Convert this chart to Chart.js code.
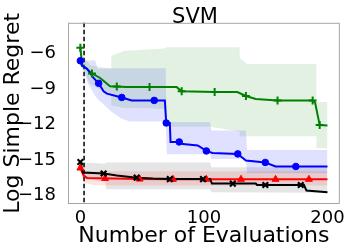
<!DOCTYPE html>
<html>
<head>
<meta charset="utf-8">
<script src="https://cdn.jsdelivr.net/npm/chart.js@4/dist/chart.umd.min.js"></script>
<style>
html,body{margin:0;padding:0;background:#fff;}
#wrap{width:349px;height:251px;position:relative;}
</style>
</head>
<body>
<div id="wrap"><canvas id="c" width="349" height="251"></canvas></div>
<script>
// ---- data ----
const chartTitle = "SVM";
const xTitle = "Number of Evaluations";
const yTitle = "Log Simple Regret";
const xTicks = [0, 100, 200];
const yTicks = [-18, -15, -12, -9, -6];
const initDesignX = 3;

// green (+)
const greenX = [0, 1.3, 9.4, 16, 24, 37.6, 56, 78, 82, 108.7, 127, 134, 142, 159.6, 188, 190, 193.7, 200];
const greenY = [-5.54, -6.94, -7.7, -8.08, -8.78, -8.85, -8.85, -8.85, -9.2, -9.27, -9.27, -9.6, -9.85, -9.97, -9.97, -10.15, -12.05, -12.08];
const greenMarkX = [0, 9.4, 29.5, 56, 82, 108.7, 134, 159.6, 188, 193.7];
const greenMarkY = [-5.54, -7.7, -8.8, -8.85, -9.2, -9.27, -9.6, -9.97, -9.97, -12.05];
const greenBandX = [0, 3, 8, 25, 25, 35, 50, 68, 70, 105, 129, 129, 135, 191, 191, 200];
const greenUpper = [-5.2, -6.3, -7.0, -7.3, -6.2, -5.8, -5.7, -5.6, -5.5, -5.5, -5.5, -6.4, -6.9, -6.9, -10.1, -10.1];
const greenLower = [-6.0, -7.4, -8.6, -9.5, -10.4, -10.6, -10.6, -10.7, -12.2, -12.2, -12.6, -13.0, -13.0, -13.0, -14.0, -14.0];

// blue (o)
const blueX = [0, 1.3, 5.4, 10.7, 14.8, 18.8, 21.5, 33.5, 41.6, 68.4, 69.5, 72.4, 73, 80, 83, 95, 102, 107, 127.4, 134, 149.7, 158, 200];
const blueY = [-6.63, -7.06, -7.3, -8.08, -8.53, -9.2, -9.4, -9.72, -9.97, -9.97, -11.87, -11.87, -13.47, -13.47, -13.65, -13.77, -14.23, -14.4, -14.48, -15.04, -15.2, -15.54, -15.54];
const blueMarkX = [0, 14.8, 33.5, 59.8, 69.5, 80, 102, 127.4, 149.7, 174.4];
const blueMarkY = [-6.63, -8.53, -9.72, -9.97, -11.87, -13.47, -14.23, -14.48, -15.2, -15.54];
const blueBandX = [0, 3, 6, 12, 14, 25, 33, 40, 69, 70, 105, 106, 134, 135, 200];
const blueUpper = [-6.4, -6.6, -6.6, -6.6, -7.3, -7.25, -7.25, -7.25, -7.25, -11.8, -11.8, -12.5, -12.5, -14.15, -14.15];
const blueLower = [-7.0, -7.6, -8.5, -9.6, -9.85, -10.9, -11.5, -11.75, -11.75, -14.5, -14.5, -14.9, -14.9, -16.1, -16.1];

// red (^)
const redX = [0, 2.7, 5.4, 48, 75, 200];
const redY = [-15.67, -16.3, -16.5, -16.6, -16.62, -16.62];
const redMarkX = [0, 20, 48, 75, 102, 130, 158, 185];
const redMarkY = [-15.67, -16.55, -16.6, -16.62, -16.62, -16.62, -16.62, -16.62];
const redBandX = [0, 3, 10, 30, 200];
const redUpper = [-15.2, -15.9, -15.95, -15.95, -15.95];
const redLower = [-16.0, -16.9, -17.1, -17.15, -17.15];

// black (x)
const blackX = [0, 2, 18.8, 29.5, 45.6, 59, 72.4, 105, 106.5, 142, 143, 181, 183, 200];
const blackY = [-15.16, -16.05, -16.13, -16.3, -16.48, -16.56, -16.6, -16.6, -16.98, -16.98, -17.1, -17.1, -17.56, -17.7];
const blackMarkX = [0, 18.8, 45.6, 72.4, 99.3, 123.4, 149.7, 178.4];
const blackMarkY = [-15.16, -16.13, -16.48, -16.6, -16.6, -16.98, -17.1, -17.1];
const blackBandX = [0, 2, 20, 21, 105, 106, 200];
const blackUpper = [-14.9, -15.2, -15.3, -15.2, -15.2, -15.6, -15.6];
const blackLower = [-15.4, -16.6, -16.8, -17.45, -17.45, -17.7, -17.75];

// ---- build ----
const pts = (xs, ys) => xs.map((x, i) => ({x: x, y: ys[i]}));
const datasets = [];
function addMarkers(xs, ys, color, style, r, bw) {
  datasets.push({data: pts(xs, ys), showLine: false, pointStyle: style, pointRadius: r,
    pointBorderWidth: bw, borderColor: color, backgroundColor: color,
    pointBackgroundColor: color, pointBorderColor: color, order: 0});
}
function addLine(xs, ys, color) {
  datasets.push({data: pts(xs, ys), showLine: true, borderColor: color, borderWidth: 2,
    pointRadius: 0, fill: false, tension: 0, order: 1});
}
function addBand(xs, up, lo, color) {
  datasets.push({data: pts(xs, up), showLine: true, borderColor: 'transparent', borderWidth: 0,
    pointRadius: 0, fill: '+1', backgroundColor: color, order: 5});
  datasets.push({data: pts(xs, lo), showLine: true, borderColor: 'transparent', borderWidth: 0,
    pointRadius: 0, fill: false, order: 5});
}
addMarkers(blackMarkX, blackMarkY, '#000000', 'crossRot', 4, 2.2);
addMarkers(redMarkX, redMarkY, '#ff0000', 'triangle', 4, 1);
addMarkers(blueMarkX, blueMarkY, '#0000ff', 'circle', 3.3, 1);
addMarkers(greenMarkX, greenMarkY, '#008000', 'cross', 4, 2);
addLine(blackX, blackY, '#000000');
addLine(redX, redY, '#ff0000');
addLine(blueX, blueY, '#0000ff');
addLine(greenX, greenY, '#008000');
addBand(greenBandX, greenUpper, greenLower, 'rgba(0,128,0,0.11)');
addBand(blueBandX, blueUpper, blueLower, 'rgba(0,0,255,0.12)');
addBand(redBandX, redUpper, redLower, 'rgba(255,0,0,0.11)');
addBand(blackBandX, blackUpper, blackLower, 'rgba(0,0,0,0.10)');

const FONT = "'DejaVu Sans', sans-serif";
const fmt = v => (v < 0 ? '\u2212' + Math.abs(v) : String(v));

const decor = {
  id: 'decor',
  beforeDatasetsDraw(chart) {
    const {ctx, chartArea: a, scales} = chart;
    const px = scales.x.getPixelForValue(initDesignX);
    ctx.save();
    ctx.strokeStyle = '#000';
    ctx.lineWidth = 1.5;
    ctx.setLineDash([4.5, 2.5]);
    ctx.beginPath();
    ctx.moveTo(px, a.top);
    ctx.lineTo(px, a.bottom);
    ctx.stroke();
    ctx.restore();
  },
  afterDraw(chart) {
    const {ctx, chartArea: a} = chart;
    ctx.save();
    ctx.strokeStyle = '#a6a6a6';
    ctx.lineWidth = 1;
    ctx.strokeRect(a.left + 0.5, a.top + 0.5, a.right - a.left - 1, a.bottom - a.top - 1);
    ctx.fillStyle = '#000';
    ctx.font = '21px ' + FONT;
    ctx.textAlign = 'center';
    ctx.textBaseline = 'alphabetic';
    ctx.fillText(chartTitle, 195, 23);
    ctx.restore();
  }
};

new Chart(document.getElementById('c'), {
  type: 'scatter',
  data: {datasets: datasets},
  plugins: [decor],
  options: {
    responsive: false,
    animation: false,
    events: [],
    layout: {padding: {left: 0, right: 8, top: 2, bottom: 0}},
    plugins: {legend: {display: false}, tooltip: {enabled: false}, title: {display: false}},
    scales: {
      x: {
        type: 'linear', min: -10, max: 210,
        afterBuildTicks: s => { s.ticks = xTicks.map(v => ({value: v})); },
        afterFit: s => { s.height = 47; },
        grid: {display: false, drawTicks: false},
        border: {display: false},
        ticks: {autoSkip: false, maxRotation: 0, padding: 4, color: '#000',
          font: {family: FONT, size: 18}, callback: v => fmt(v)},
        title: {display: true, text: xTitle, color: '#000', font: {family: FONT, size: 22},
          padding: {top: 0, bottom: 2}}
      },
      y: {
        type: 'linear', min: -18.7, max: -3.43,
        afterBuildTicks: s => { s.ticks = yTicks.map(v => ({value: v})); },
        afterFit: s => { s.width = 68; },
        grid: {display: false, drawTicks: false},
        border: {display: false},
        ticks: {autoSkip: false, padding: 12, color: '#000',
          font: {family: FONT, size: 18}, callback: v => fmt(v)},
        title: {display: true, text: yTitle, color: '#000', font: {family: FONT, size: 22},
          padding: {top: 0, bottom: 0}}
      }
    }
  }
});
</script>
</body>
</html>
